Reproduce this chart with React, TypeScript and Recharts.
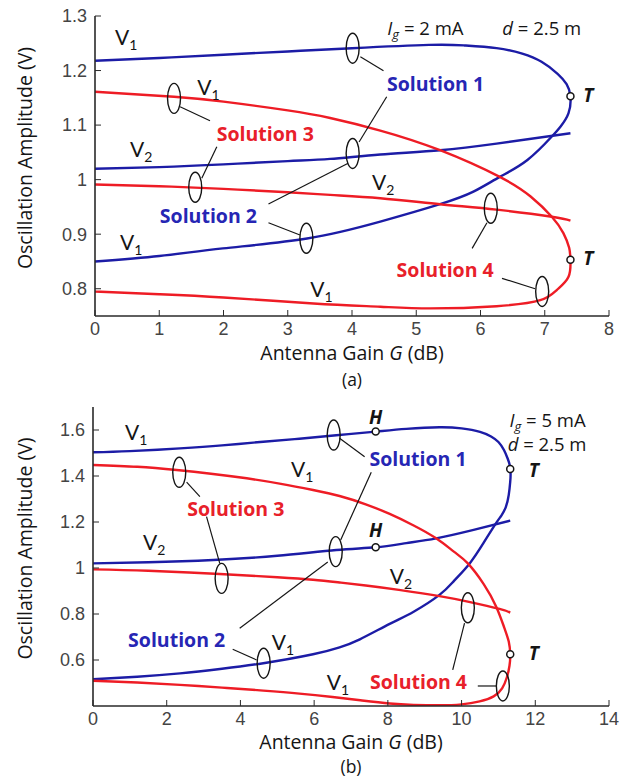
import React from 'react';
import { LineChart, Line, XAxis, YAxis, ReferenceDot, ReferenceLine } from 'recharts';

type Pt = { x: number; y: number };
const pts = (arr: number[][]): Pt[] => arr.map(([x, y]) => ({ x, y }));

// ---------- Panel (a): Ig = 2 mA ----------
const gainTicksA = [0, 1, 2, 3, 4, 5, 6, 7, 8];
const ampTicksA = [0.8, 0.9, 1, 1.1, 1.2, 1.3];

const blueFoldA = pts([
  [0, 1.218], [1, 1.223], [2, 1.229], [3, 1.235], [4, 1.241], [5.2, 1.247], [5.75, 1.246],
  [6.25, 1.241], [6.65, 1.231], [6.95, 1.216], [7.2, 1.194], [7.34, 1.175], [7.4, 1.153],
  [7.37, 1.122], [7.25, 1.098], [7.11, 1.079], [6.73, 1.036], [6.3, 1.005], [5.89, 0.978],
  [5.37, 0.955], [4.44, 0.923], [3.3, 0.892], [1.99, 0.874], [1.0, 0.86], [0, 0.85],
]);
const blueV2A = pts([
  [0, 1.02], [1, 1.023], [2, 1.028], [3, 1.034], [3.66, 1.038], [4.44, 1.046], [5.37, 1.054],
  [6.25, 1.066], [7.4, 1.085],
]);
const redFoldA = pts([
  [0, 1.161], [1.23, 1.152], [2, 1.143], [3, 1.127], [3.66, 1.113], [4.44, 1.09], [5.37, 1.054],
  [6.3, 1.005], [6.78, 0.969], [7.11, 0.932], [7.29, 0.902], [7.38, 0.875], [7.4, 0.853],
  [7.37, 0.822], [7.19, 0.798], [6.93, 0.779], [6.25, 0.768], [5.22, 0.764], [4.44, 0.767],
  [3.4, 0.773], [2.0, 0.784], [1, 0.79], [0, 0.795],
]);
const redV2A = pts([
  [0, 0.991], [1, 0.988], [2, 0.983], [3, 0.977], [3.66, 0.972], [4.44, 0.966], [5.37, 0.955],
  [6.25, 0.945], [7.11, 0.932], [7.4, 0.925],
]);
const turnPointsA = pts([[7.4, 1.153], [7.4, 0.853]]);

// ---------- Panel (b): Ig = 5 mA ----------
const gainTicksB = [0, 2, 4, 6, 8, 10, 12, 14];
const ampTicksB = [0.6, 0.8, 1, 1.2, 1.4, 1.6];

const blueFoldB = pts([
  [0, 1.503], [1, 1.508], [2.36, 1.52], [3.5, 1.533], [4.62, 1.549], [5.6, 1.562], [6.6, 1.577],
  [7.67, 1.593], [8.5, 1.605], [9.4, 1.612], [10.0, 1.607], [10.5, 1.592], [10.8, 1.572],
  [11.0, 1.548], [11.15, 1.513], [11.25, 1.476], [11.31, 1.445], [11.33, 1.41], [11.32, 1.375],
  [11.28, 1.318], [11.2, 1.265], [11.08, 1.228], [10.94, 1.196], [10.6, 1.11],
  [10.22, 1.02], [9.8, 0.945], [9.4, 0.883], [8.7, 0.81], [8.05, 0.757], [7.24, 0.69],
  [6.69, 0.655], [5.97, 0.625], [4.62, 0.586], [3.5, 0.562], [2.36, 0.542], [1.2, 0.527], [0, 0.516],
]);
const blueV2B = pts([
  [0, 1.02], [1.5, 1.025], [3.26, 1.035], [5, 1.053], [6.6, 1.078], [7.67, 1.09], [8.5, 1.108],
  [9.31, 1.129], [10.3, 1.165], [11.32, 1.206],
]);
const redFoldB = pts([
  [0, 1.448], [1.2, 1.44], [2.27, 1.426], [3.2, 1.41], [4.17, 1.39], [5.1, 1.366], [5.97, 1.339],
  [6.69, 1.313], [7.4, 1.277], [8.05, 1.235], [8.7, 1.185], [9.31, 1.129], [9.8, 1.07],
  [10.17, 1.02], [10.6, 0.93], [10.94, 0.832], [11.16, 0.74], [11.28, 0.68], [11.32, 0.625],
  [11.3, 0.575], [11.23, 0.525], [11.1, 0.477], [10.87, 0.442], [10.49, 0.42], [10.0, 0.407],
  [9.4, 0.403], [8.7, 0.405], [8.05, 0.411], [7.3, 0.424], [6.5, 0.439], [5.6, 0.454],
  [4.62, 0.467], [3.5, 0.48], [2.36, 0.492], [1.2, 0.502], [0, 0.51],
]);
const redV2B = pts([
  [0, 0.994], [1.5, 0.988], [3.44, 0.974], [5, 0.96], [5.97, 0.949], [6.69, 0.937], [7.4, 0.924],
  [8.3, 0.905], [9.4, 0.878], [10.2, 0.853], [11.03, 0.822], [11.32, 0.806],
]);
const turnPointsB = pts([[11.32, 1.43], [11.32, 0.625]]);
const hopfPointsB = pts([[7.67, 1.593], [7.67, 1.09]]);

// ---------- annotations (anchored in data coordinates) ----------
type Ann = { x: number; y: number; kind: string; text?: string; tone?: string };

const ellipsesA = pts([[4.01, 1.241], [1.23, 1.149], [4.01, 1.048], [1.56, 0.986], [3.29, 0.8925], [6.16, 0.9475], [6.96, 0.795]]);
const leadersA = [
  [4.13, 1.2254, 4.49, 1.1997], [4.54, 1.152, 4.11, 1.069], [1.324, 1.1337, 1.79, 1.108],
  [1.896, 1.0604, 1.662, 1.0025], [3.94, 1.03, 2.7, 0.9554], [2.7, 0.921, 3.19, 0.8985],
  [6.1, 0.921, 5.87, 0.874], [6.335, 0.819, 6.85, 0.8],
];
const labelsA: Ann[] = [
  { x: 5.3, y: 1.1766, kind: 'sol', text: 'Solution 1', tone: 'blue' },
  { x: 2.65, y: 1.085, kind: 'sol', text: 'Solution 3', tone: 'red' },
  { x: 1.765, y: 0.9334, kind: 'sol', text: 'Solution 2', tone: 'blue' },
  { x: 5.45, y: 0.8357, kind: 'sol', text: 'Solution 4', tone: 'red' },
  { x: 0.31, y: 1.2468, kind: 'V', text: '1' },
  { x: 1.59, y: 1.1552, kind: 'V', text: '1' },
  { x: 0.545, y: 1.0415, kind: 'V', text: '2' },
  { x: 4.31, y: 0.981, kind: 'V', text: '2' },
  { x: 0.39, y: 0.871, kind: 'V', text: '1' },
  { x: 3.35, y: 0.785, kind: 'V', text: '1' },
  { x: 4.55, y: 1.265, kind: 'Ig', text: '2 mA' },
  { x: 6.34, y: 1.265, kind: 'd', text: '2.5 m' },
  { x: 7.6, y: 1.1424, kind: 'T', text: 'T' },
  { x: 7.6, y: 0.8435, kind: 'T', text: 'T' },
];

const ellipsesB = pts([[6.53, 1.578], [2.34, 1.416], [6.585, 1.071], [3.49, 0.955], [4.63, 0.586], [10.17, 0.827], [11.12, 0.487]]);
const leadersB = [
  [6.69, 1.564, 7.37, 1.484], [7.55, 1.416, 6.72, 1.122], [2.54, 1.373, 2.9, 1.31],
  [3.08, 1.223, 3.44, 1.02], [3.98, 0.738, 6.37, 1.026], [3.79, 0.647, 4.44, 0.6],
  [10.08, 0.76, 9.76, 0.557], [10.44, 0.487, 10.94, 0.487],
];
const labelsB: Ann[] = [
  { x: 8.82, y: 1.477, kind: 'sol', text: 'Solution 1', tone: 'blue' },
  { x: 3.875, y: 1.26, kind: 'sol', text: 'Solution 3', tone: 'red' },
  { x: 2.27, y: 0.687, kind: 'sol', text: 'Solution 2', tone: 'blue' },
  { x: 8.83, y: 0.506, kind: 'sol', text: 'Solution 4', tone: 'red' },
  { x: 0.867, y: 1.557, kind: 'V', text: '1' },
  { x: 5.37, y: 1.396, kind: 'V', text: '1' },
  { x: 1.355, y: 1.078, kind: 'V', text: '2' },
  { x: 4.85, y: 0.643, kind: 'V', text: '1' },
  { x: 6.34, y: 0.47, kind: 'V', text: '1' },
  { x: 8.05, y: 0.93, kind: 'V', text: '2' },
  { x: 11.3, y: 1.612, kind: 'Ig', text: '5 mA' },
  { x: 11.25, y: 1.508, kind: 'd', text: '2.5 m' },
  { x: 11.82, y: 1.397, kind: 'T', text: 'T' },
  { x: 11.82, y: 0.6, kind: 'T', text: 'T' },
  { x: 7.67, y: 1.625, kind: 'H', text: 'H' },
  { x: 7.67, y: 1.136, kind: 'H', text: 'H' },
];

// ---------- styling ----------
const BLUE = '#1c1ca6';
const RED = '#ee1c25';
const BLUE_TXT = '#2626b4';
const RED_TXT = '#e8202a';
const INK = '#151515';
const FRAME = '#2a2a2a';
const SANS = '"Open Sans", Lato, sans-serif';
const VFONT = 'Lato, "Open Sans", sans-serif';
const TICKFONT = '"Liberation Sans", Arial, sans-serif';

const annShape = (a: Ann) => (p: any) => {
  const { cx, cy } = p;
  if (a.kind === 'V') {
    return (
      <text x={cx} y={cy} fontFamily={VFONT} fontSize={21} fill={INK}>
        V<tspan fontSize={14} dy={5}>{a.text}</tspan>
      </text>
    );
  }
  if (a.kind === 'sol') {
    return (
      <text x={cx} y={cy} textAnchor="middle" dominantBaseline="central" fontFamily={SANS}
        fontWeight={700} fontSize={19.5} fill={a.tone === 'red' ? RED_TXT : BLUE_TXT}>
        {a.text}
      </text>
    );
  }
  if (a.kind === 'T' || a.kind === 'H') {
    return (
      <text x={cx} y={cy} textAnchor={a.kind === 'H' ? 'middle' : 'start'} fontFamily={SANS}
        fontWeight={700} fontStyle="italic" fontSize={19} fill={INK}>
        {a.text}
      </text>
    );
  }
  if (a.kind === 'Ig') {
    return (
      <text x={cx} y={cy} fontFamily={SANS} fontSize={18.5} fill={INK}>
        <tspan fontStyle="italic">I</tspan>
        <tspan fontStyle="italic" fontSize={13} dy={4}>g</tspan>
        <tspan dy={-4}>{'\u00a0= ' + a.text}</tspan>
      </text>
    );
  }
  return (
    <text x={cx} y={cy} fontFamily={SANS} fontSize={18.5} fill={INK}>
      <tspan fontStyle="italic">d</tspan>
      <tspan>{'\u00a0= ' + a.text}</tspan>
    </text>
  );
};

const ellipseShape = (p: any) => (
  <ellipse cx={p.cx} cy={p.cy} rx={6.5} ry={15} fill="none" stroke={INK} strokeWidth={1.4} />
);

const XTitle = (caption: string, titleOffset: number, capOffset: number) => (props: any) => {
  const vb = props.viewBox || {};
  const cx = vb.x + vb.width / 2;
  return (
    <g>
      <text x={cx} y={vb.y + titleOffset} textAnchor="middle" fontFamily={SANS} fontSize={19.5} fill={INK}>
        Antenna Gain <tspan fontStyle="italic">G</tspan> (dB)
      </text>
      <text x={cx} y={vb.y + capOffset} textAnchor="middle" fontFamily={SANS} fontSize={17.5} fill={INK}>
        {caption}
      </text>
    </g>
  );
};

const YTitle = (props: any) => {
  const vb = props.viewBox || {};
  const x = 32;
  const y = vb.y + vb.height / 2 - 8;
  return (
    <text x={x} y={y} transform={`rotate(-90 ${x} ${y})`} textAnchor="middle" fontFamily={SANS}
      fontSize={19.5} fill={INK}>
      Oscillation Amplitude (V)
    </text>
  );
};

type PanelProps = {
  height: number;
  margin: { top: number; right: number; left: number; bottom: number };
  yAxisWidth: number;
  xAxisHeight: number;
  xDomain: [number, number];
  yDomain: [number, number];
  xTicks: number[];
  yTicks: number[];
  blue: Pt[][];
  red: Pt[][];
  markers: Pt[];
  ellipses: Pt[];
  leaders: number[][];
  labels: Ann[];
  caption: string;
  titleOffset: number;
  capOffset: number;
};

function Panel(p: PanelProps) {
  const tickStyle = { fontFamily: TICKFONT, fontSize: 18, fill: '#444' };
  const axisLine = { stroke: FRAME, strokeWidth: 1.6 };
  const tickLine = { stroke: FRAME, strokeWidth: 1 };
  return (
    <LineChart width={624} height={p.height} margin={p.margin}>
      <XAxis xAxisId={0} type="number" dataKey="x" domain={p.xDomain} ticks={p.xTicks}
        allowDataOverflow interval={0} height={p.xAxisHeight} tick={tickStyle}
        tickSize={-6} tickMargin={12} axisLine={axisLine} tickLine={tickLine}
        label={XTitle(p.caption, p.titleOffset, p.capOffset)} />
      <XAxis xAxisId="top" orientation="top" type="number" domain={p.xDomain} ticks={p.xTicks}
        allowDataOverflow interval={0} height={0} tick={false} tickSize={-6}
        axisLine={axisLine} tickLine={tickLine} />
      <YAxis yAxisId={0} type="number" domain={p.yDomain} ticks={p.yTicks} allowDataOverflow
        interval={0} width={p.yAxisWidth} tick={tickStyle} tickSize={-6} tickMargin={14}
        axisLine={axisLine} tickLine={tickLine} label={YTitle} />
      <YAxis yAxisId="right" orientation="right" type="number" domain={p.yDomain} ticks={p.yTicks}
        allowDataOverflow interval={0} width={0} tick={false} tickSize={-6}
        axisLine={axisLine} tickLine={tickLine} />
      {p.blue.map((d, i) => (
        <Line key={'b' + i} data={d} dataKey="y" type="natural" stroke={BLUE} strokeWidth={2.4}
          dot={false} activeDot={false} isAnimationActive={false} />
      ))}
      {p.red.map((d, i) => (
        <Line key={'r' + i} data={d} dataKey="y" type="natural" stroke={RED} strokeWidth={2.4}
          dot={false} activeDot={false} isAnimationActive={false} />
      ))}
      {p.leaders.map((s, i) => (
        <ReferenceLine key={'l' + i} segment={[{ x: s[0], y: s[1] }, { x: s[2], y: s[3] }]}
          stroke={INK} strokeWidth={1.2} />
      ))}
      {p.ellipses.map((e, i) => (
        <ReferenceDot key={'e' + i} x={e.x} y={e.y} shape={ellipseShape} />
      ))}
      {p.markers.map((m, i) => (
        <ReferenceDot key={'m' + i} x={m.x} y={m.y} r={3.5} fill="#fff" stroke={INK}
          strokeWidth={1.5} />
      ))}
      {p.labels.map((a, i) => (
        <ReferenceDot key={'t' + i} x={a.x} y={a.y} shape={annShape(a)} />
      ))}
    </LineChart>
  );
}

export default function App() {
  return (
    <div style={{ position: 'absolute', left: 0, top: 0, width: 624, height: 778, background: '#fff' }}>
      <div style={{ position: 'absolute', left: 0, top: 0 }}>
        <Panel height={392} margin={{ top: 16, right: 15, left: 0, bottom: 0 }} yAxisWidth={95}
          xAxisHeight={76} xDomain={[0, 8]} yDomain={[0.75, 1.3]} xTicks={gainTicksA}
          yTicks={ampTicksA} blue={[blueFoldA, blueV2A]} red={[redFoldA, redV2A]}
          markers={turnPointsA} ellipses={ellipsesA} leaders={leadersA} labels={labelsA}
          caption="(a)" titleOffset={44} capOffset={70} />
      </div>
      <div style={{ position: 'absolute', left: 0, top: 392 }}>
        <Panel height={386} margin={{ top: 15, right: 15, left: 0, bottom: 0 }} yAxisWidth={93}
          xAxisHeight={72} xDomain={[0, 14]} yDomain={[0.4, 1.7]} xTicks={gainTicksB}
          yTicks={ampTicksB} blue={[blueFoldB, blueV2B]} red={[redFoldB, redV2B]}
          markers={[...turnPointsB, ...hopfPointsB]} ellipses={ellipsesB} leaders={leadersB}
          labels={labelsB} caption="(b)" titleOffset={43} capOffset={67} />
      </div>
    </div>
  );
}
